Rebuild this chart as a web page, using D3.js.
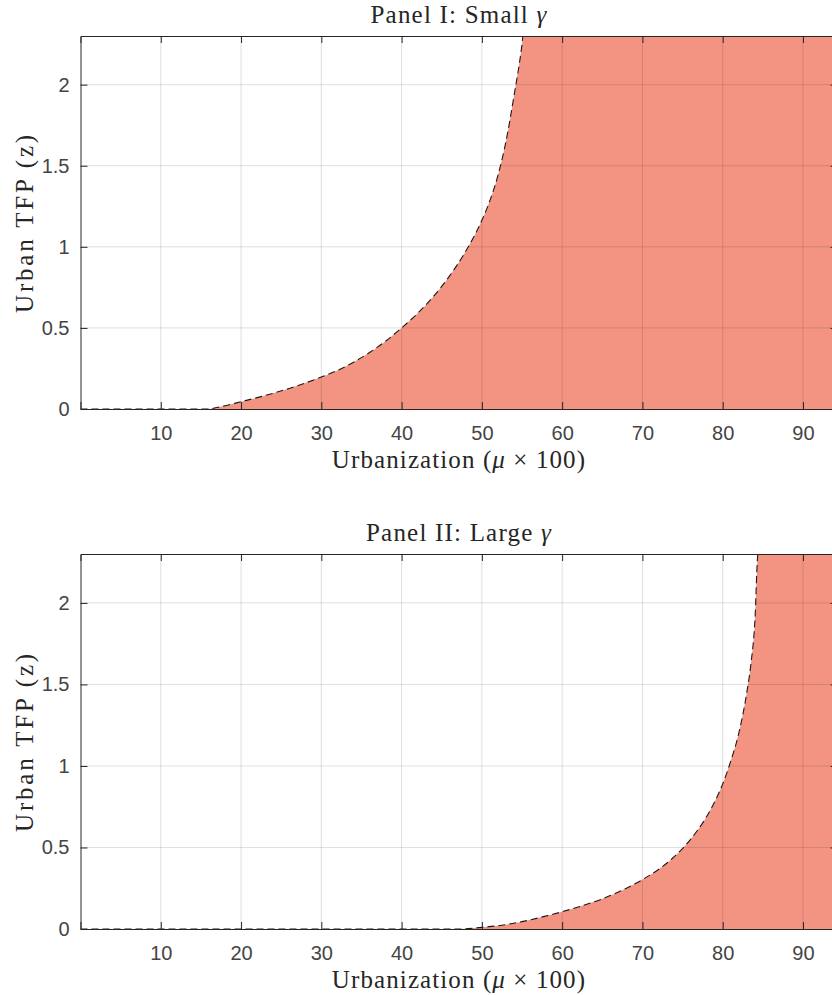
<!DOCTYPE html>
<html>
<head>
<meta charset="utf-8">
<script src="https://cdn.jsdelivr.net/npm/d3@7"></script>
<style>
  html, body { margin: 0; padding: 0; background: #fff; }
  svg { display: block; }
</style>
</head>
<body>
<div id="chart"></div>
<script>
// -----------------------------
// Data
// -----------------------------
const xTicks = [10, 20, 30, 40, 50, 60, 70, 80, 90];
const yTicks = [0, 0.5, 1, 1.5, 2];
const yTickLabels = ["0", "0.5", "1", "1.5", "2"];

// Panel I: small gamma
const mu1 = [0, 15.7, 18, 20, 22, 24, 26, 28, 30, 32, 34, 36, 38, 40, 42, 44, 46, 48, 50, 51, 52, 53, 54, 55, 55.12];
const z1  = [0, 0, 0.02, 0.045, 0.07, 0.097, 0.127, 0.16, 0.197, 0.238, 0.288, 0.348, 0.418, 0.5, 0.59, 0.696, 0.822, 0.974, 1.164, 1.285, 1.44, 1.65, 1.93, 2.25, 2.3];

// Panel II: large gamma
const mu2 = [0, 47.3, 50, 52, 55, 58, 60, 62, 65, 68, 70, 72, 74, 76, 78, 79, 80, 81, 82, 83, 83.5, 84, 84.4];
const z2  = [0, 0, 0.01, 0.02, 0.045, 0.08, 0.106, 0.135, 0.185, 0.25, 0.303, 0.365, 0.445, 0.55, 0.69, 0.78, 0.89, 1.03, 1.2, 1.45, 1.62, 1.88, 2.3];

const xMax = 94.3;   // axis limit (right edge falls just outside the picture)
const yMax = 2.3;

const panels = [
  { title: "Panel I: Small ", mu: mu1, z: z1, top: 36, bottom: 409 },
  { title: "Panel II: Large ", mu: mu2, z: z2, top: 554, bottom: 929 }
];

// -----------------------------
// Layout & styles
// -----------------------------
const width = 832, height = 995;
const left = 80.5, right = 837.5;
const fillColor = "#f39382";
const axisColor = "#262626";
const serif = "'Liberation Serif', 'Times New Roman', serif";
const sans = "'Liberation Sans', Arial, Helvetica, sans-serif";

const svg = d3.select("#chart")
  .append("svg")
  .attr("width", width)
  .attr("height", height);

const x = d3.scaleLinear().domain([0, xMax]).range([left, right]);

panels.forEach((p, i) => {
  const y = d3.scaleLinear().domain([0, yMax]).range([p.bottom, p.top]);
  const g = svg.append("g");

  // points: curve, then run along the top limit to the right edge
  const pts = p.mu.map((m, k) => [m, p.z[k]]);
  pts.push([xMax, yMax]);

  const clipId = "clip" + i;
  g.append("clipPath").attr("id", clipId)
    .append("rect")
    .attr("x", left).attr("y", p.top)
    .attr("width", right - left).attr("height", p.bottom - p.top);

  const plot = g.append("g").attr("clip-path", `url(#${clipId})`);

  // filled region
  const area = d3.area()
    .x(d => x(d[0]))
    .y0(y(0))
    .y1(d => y(d[1]))
    .curve(d3.curveMonotoneX);

  plot.append("path")
    .datum(pts)
    .attr("d", area)
    .attr("fill", fillColor);

  // grid (on top of fill, MATLAB-like translucent)
  plot.selectAll(".vgrid")
    .data(xTicks)
    .join("line")
    .attr("x1", d => x(d)).attr("x2", d => x(d))
    .attr("y1", p.top).attr("y2", p.bottom)
    .attr("stroke", axisColor)
    .attr("stroke-opacity", 0.15)
    .attr("stroke-width", 1);

  plot.selectAll(".hgrid")
    .data(yTicks.filter(d => d > 0))
    .join("line")
    .attr("x1", left).attr("x2", right)
    .attr("y1", d => y(d)).attr("y2", d => y(d))
    .attr("stroke", axisColor)
    .attr("stroke-opacity", 0.15)
    .attr("stroke-width", 1);

  // dashed boundary
  const line = d3.line()
    .x(d => x(d[0]))
    .y(d => y(d[1]))
    .curve(d3.curveMonotoneX);

  plot.append("path")
    .datum(pts)
    .attr("d", line)
    .attr("fill", "none")
    .attr("stroke", "#1a1a1a")
    .attr("stroke-width", 1.1)
    .attr("stroke-dasharray", "7,4");

  // -----------------------------
  // Axes (ticks pointing inward)
  // -----------------------------
  const xAxis = d3.axisBottom(x).tickValues(xTicks).tickSize(-7).tickPadding(17).tickFormat(d3.format("d"));
  const xAxisTop = d3.axisTop(x).tickValues(xTicks).tickSize(-7).tickFormat("");
  const yAxis = d3.axisLeft(y).tickValues(yTicks).tickSize(-7).tickPadding(11)
    .tickFormat((d, k) => yTickLabels[k]);
  const yAxisRight = d3.axisRight(y).tickValues(yTicks).tickSize(-7).tickFormat("");

  const styleAxis = sel => {
    sel.selectAll("path.domain").attr("stroke", axisColor).attr("stroke-width", 1);
    sel.selectAll(".tick line").attr("stroke", axisColor).attr("stroke-width", 1);
    sel.selectAll(".tick text")
      .attr("fill", "#444")
      .style("font-family", sans)
      .style("font-size", "20px");
  };

  g.append("g").attr("transform", `translate(0,${p.bottom})`).call(xAxis).call(styleAxis);
  g.append("g").attr("transform", `translate(0,${p.top})`).call(xAxisTop).call(styleAxis);
  g.append("g").attr("transform", `translate(${left},0)`).call(yAxis).call(styleAxis);
  g.append("g").attr("transform", `translate(${right},0)`).call(yAxisRight).call(styleAxis);

  // -----------------------------
  // Labels
  // -----------------------------
  const cx = (left + right) / 2;

  const title = g.append("text")
    .attr("x", cx)
    .attr("y", p.top - 13)
    .attr("text-anchor", "middle")
    .style("font-family", serif)
    .style("font-size", "25px")
    .style("letter-spacing", "1.2px")
    .attr("fill", "#262626")
    .text(p.title);
  title.append("tspan").style("font-style", "italic").text("γ");

  const xl = g.append("text")
    .attr("x", cx)
    .attr("y", p.bottom + 59)
    .attr("text-anchor", "middle")
    .style("font-family", serif)
    .style("font-size", "25px")
    .style("letter-spacing", "1.1px")
    .attr("fill", "#262626")
    .text("Urbanization (");
  xl.append("tspan").style("font-style", "italic").text("μ");
  xl.append("tspan").text(" × 100)");

  g.append("text")
    .attr("transform", `translate(33,${(p.top + p.bottom) / 2}) rotate(-90)`)
    .attr("text-anchor", "middle")
    .style("font-family", serif)
    .style("font-size", "25px")
    .style("letter-spacing", "2.8px")
    .attr("fill", "#262626")
    .text("Urban TFP (z)");
});
</script>
</body>
</html>
